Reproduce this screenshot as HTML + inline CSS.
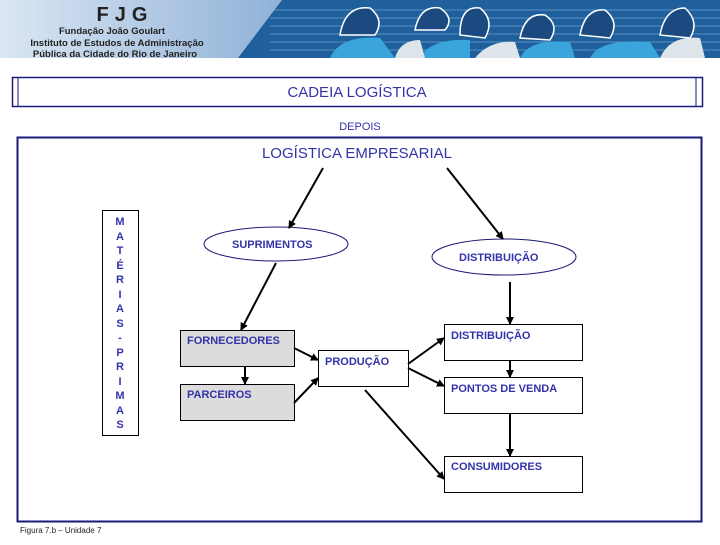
<!DOCTYPE html>
<html><head><meta charset="utf-8"><style>
body{margin:0;width:720px;height:540px;background:#fff;overflow:hidden;font-family:"Liberation Sans",sans-serif}
</style></head><body>
<svg width="720" height="540" xmlns="http://www.w3.org/2000/svg" font-family="Liberation Sans, sans-serif">
<defs>
<linearGradient id="lg" x1="0" x2="1"><stop offset="0" stop-color="#dbe6f2"/><stop offset="1" stop-color="#8fb1d8"/></linearGradient>
<marker id="a" markerWidth="8" markerHeight="8" refX="7" refY="4" orient="auto" markerUnits="userSpaceOnUse"><path d="M0,0 L8,4 L0,8z" fill="#000"/></marker>
</defs>
<rect x="0" y="0" width="720" height="58" fill="#1f5f9c"/>
<g stroke="#5a8fc4" stroke-width="1">
<line x1="270" y1="10" x2="720" y2="10"/><line x1="270" y1="18" x2="720" y2="18"/><line x1="270" y1="26" x2="720" y2="26"/><line x1="270" y1="34" x2="720" y2="34"/><line x1="270" y1="42" x2="720" y2="42"/><line x1="270" y1="50" x2="720" y2="50"/></g>
<polygon points="0,0 282,0 238,58 0,58" fill="url(#lg)"/>
<g fill="#3aa5dc"><path d="M330,58 Q340,35 380,38 L395,58z"/><path d="M420,58 Q430,38 470,40 L470,58z"/><path d="M520,58 Q530,38 570,42 L575,58z"/><path d="M590,58 Q600,38 650,42 L660,58z"/></g>
<g fill="#dde4ea"><path d="M395,58 Q400,40 420,40 L425,58z"/><path d="M475,58 Q490,40 515,42 L520,58z"/><path d="M660,58 Q670,35 700,38 L705,58z"/></g>
<g fill="#1a4a80" stroke="#fff" stroke-width="1.5"><path d="M340,35 Q345,5 370,8 Q385,20 375,35z"/><path d="M415,30 Q420,5 440,8 Q455,18 445,30z"/><path d="M460,35 Q460,5 480,8 Q495,20 485,38z"/><path d="M520,38 Q525,12 545,15 Q560,25 550,40z"/><path d="M580,35 Q585,8 605,10 Q620,22 610,38z"/><path d="M660,35 Q665,8 685,8 Q700,22 690,38z"/></g>
<text x="125" y="21" text-anchor="middle" font-size="20" font-weight="bold" fill="#222" letter-spacing="6">FJG</text>
<text x="112" y="34" text-anchor="middle" font-size="9.5" font-weight="bold" fill="#222">Fundação João Goulart</text>
<text x="117" y="46" text-anchor="middle" font-size="9.5" font-weight="bold" fill="#222">Instituto de Estudos de Administração</text>
<text x="115" y="57" text-anchor="middle" font-size="9.5" font-weight="bold" fill="#222">Pública da Cidade do Rio de Janeiro</text>

<rect x="12.5" y="77.5" width="690" height="29" fill="none" stroke="#1a1a7a" stroke-width="1.5"/>
<line x1="18" y1="78" x2="18" y2="107" stroke="#1a1a7a"/>
<line x1="696" y1="78" x2="696" y2="107" stroke="#1a1a7a"/>
<text x="357" y="97" text-anchor="middle" font-size="15" fill="#3333aa">CADEIA LOGÍSTICA</text>
<text x="360" y="130" text-anchor="middle" font-size="11" fill="#3333aa">DEPOIS</text>
<rect x="17.5" y="137.5" width="684" height="384" fill="none" stroke="#1a1a7a" stroke-width="2"/>
<text x="357" y="158" text-anchor="middle" font-size="15" fill="#3333aa">LOGÍSTICA EMPRESARIAL</text>

<rect x="102.5" y="210.5" width="36" height="225" fill="#fff" stroke="#000"/>
<g font-size="11" font-weight="bold" fill="#3333aa" text-anchor="middle">
<text x="120" y="225">M</text><text x="120" y="240">A</text><text x="120" y="254">T</text><text x="120" y="269">É</text><text x="120" y="283">R</text><text x="120" y="298">I</text><text x="120" y="312">A</text><text x="120" y="327">S</text><text x="120" y="341">-</text><text x="120" y="356">P</text><text x="120" y="370">R</text><text x="120" y="385">I</text><text x="120" y="399">M</text><text x="120" y="414">A</text><text x="120" y="428">S</text>
</g>

<ellipse cx="276" cy="244" rx="72" ry="17" fill="#fff" stroke="#1a1a7a"/>
<ellipse cx="504" cy="257" rx="72" ry="18" fill="#fff" stroke="#1a1a7a"/>
<rect x="180.5" y="330.5" width="114" height="36" fill="#dcdcdc" stroke="#000"/>
<rect x="180.5" y="384.5" width="114" height="36" fill="#dcdcdc" stroke="#000"/>
<rect x="318.5" y="350.5" width="90" height="36" fill="#fff" stroke="#000"/>
<rect x="444.5" y="324.5" width="138" height="36" fill="#fff" stroke="#000"/>
<rect x="444.5" y="377.5" width="138" height="36" fill="#fff" stroke="#000"/>
<rect x="444.5" y="456.5" width="138" height="36" fill="#fff" stroke="#000"/>

<g font-size="11" font-weight="bold" fill="#3333aa">
<text x="232" y="248">SUPRIMENTOS</text>
<text x="459" y="261">DISTRIBUIÇÃO</text>
<text x="187" y="344">FORNECEDORES</text>
<text x="187" y="398">PARCEIROS</text>
<text x="325" y="365">PRODUÇÃO</text>
<text x="451" y="339">DISTRIBUIÇÃO</text>
<text x="451" y="392">PONTOS DE VENDA</text>
<text x="451" y="470">CONSUMIDORES</text>
</g>

<g stroke="#000" stroke-width="2" marker-end="url(#a)">
<line x1="323" y1="168" x2="289" y2="228"/>
<line x1="447" y1="168" x2="503" y2="239"/>
<line x1="276" y1="263" x2="241" y2="330"/>
<line x1="245" y1="367" x2="245" y2="384"/>
<line x1="294" y1="348" x2="318" y2="360"/>
<line x1="294" y1="403" x2="318" y2="378"/>
<line x1="408" y1="364" x2="444" y2="338"/>
<line x1="408" y1="368" x2="444" y2="386"/>
<line x1="365" y1="390" x2="444" y2="479"/>
<line x1="510" y1="282" x2="510" y2="324"/>
<line x1="510" y1="361" x2="510" y2="377"/>
<line x1="510" y1="414" x2="510" y2="456"/>
</g>
<text x="20" y="533" font-size="8" fill="#222">Figura 7.b – Unidade 7</text>
</svg>
</body></html>
